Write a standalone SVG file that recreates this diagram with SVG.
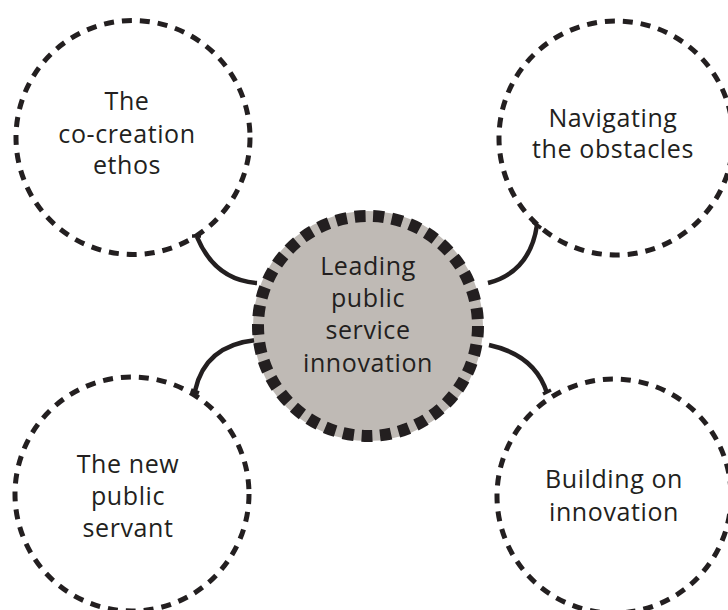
<svg xmlns="http://www.w3.org/2000/svg" width="728" height="610" viewBox="0 0 728 610">
<style>
.sat{fill:none;stroke:#231f20;stroke-width:5;stroke-dasharray:10 8}
.hubfill{fill:#bfbab5}
.hubring{fill:none;stroke:#231f20;stroke-width:12;stroke-dasharray:11 7.68}
.conn{fill:none;stroke:#231f20;stroke-width:4.5}
.tick{stroke:#231f20;stroke-width:3.5}
text{font-family:"Open Sans","Noto Sans",sans-serif;font-size:25px;fill:#231f20;text-anchor:middle;letter-spacing:0.6px}
</style>
<rect width="728" height="610" fill="#ffffff"/>
<g id="connectors">
<path class="conn" d="M197,237 Q215,280 257,283"/>
<line class="tick" x1="192" y1="236" x2="201" y2="236"/>
<path class="conn" d="M537,225 Q530,272 488,283"/>
<line class="tick" x1="533" y1="222" x2="541" y2="228"/>
<path class="conn" d="M195,391 Q205,345 257,340"/>
<line class="tick" x1="191" y1="390" x2="199" y2="393"/>
<path class="conn" d="M489,345 Q535,355 547,393"/>
<line class="tick" x1="543" y1="394" x2="551" y2="390"/>
</g>
<g id="node-cocreation">
<circle class="sat" cx="133" cy="137.5" r="117"/>
<text x="127" y="110">The</text>
<text x="127" y="143">co-creation</text>
<text x="127" y="174">ethos</text>
</g>
<g id="node-obstacles">
<circle class="sat" cx="616" cy="138" r="117"/>
<text x="613" y="127">Navigating</text>
<text x="613" y="158">the obstacles</text>
</g>
<g id="node-servant">
<circle class="sat" cx="132" cy="494" r="117"/>
<text x="128" y="473">The new</text>
<text x="128" y="505">public</text>
<text x="128" y="537">servant</text>
</g>
<g id="node-building">
<circle class="sat" cx="614" cy="496" r="117"/>
<text x="614" y="488">Building on</text>
<text x="614" y="521">innovation</text>
</g>
<g id="node-hub">
<circle class="hubfill" cx="368" cy="326" r="115"/>
<circle class="hubring" cx="368" cy="326" r="110"/>
<text x="368" y="275">Leading</text>
<text x="368" y="307">public</text>
<text x="368" y="339">service</text>
<text x="368" y="372">innovation</text>
</g>
</svg>
